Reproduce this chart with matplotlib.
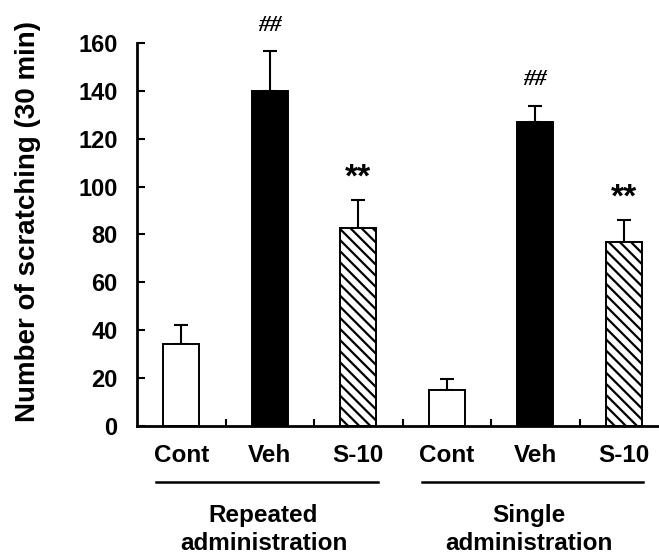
import matplotlib
matplotlib.use("Agg")
import matplotlib.pyplot as plt
from matplotlib.lines import Line2D

plt.rcParams['font.family'] = ['Liberation Sans', 'DejaVu Sans']
plt.rcParams['hatch.linewidth'] = 1.6

categories = ["Cont", "Veh", "S-10", "Cont", "Veh", "S-10"]
values = [34, 140, 82.5, 15, 127, 77]
errors = [8, 16.5, 12, 4.6, 6.7, 9]
marks = ["", "##", "**", "", "##", "**"]
groups = ["Repeated\nadministration", "Single\nadministration"]
yticks = [0, 20, 40, 60, 80, 100, 120, 140, 160]
ylabel = "Number of scratching (30 min)"

facecolors = ["white", "black", "white", "white", "black", "white"]
hatches = [None, None, "\\\\\\", None, None, "\\\\\\"]

fig = plt.figure(figsize=(6.59, 5.54), dpi=100)
ax = fig.add_axes([137/659, 1 - 425.7/554, 531/659, (425.7 - 43)/554])

x = list(range(len(values)))
for i in x:
    ax.bar(i, values[i], width=0.41, color=facecolors[i], edgecolor="black",
           linewidth=1.4, hatch=hatches[i], zorder=2)
    ax.errorbar(i, values[i], yerr=[[0], [errors[i]]], fmt="none", ecolor="black",
                elinewidth=1.5, capsize=5, capthick=1.5, zorder=1)
    if marks[i]:
        top = values[i] + errors[i]
        if marks[i] == "##":
            ax.text(i, top + 11, marks[i], ha="center", va="center",
                    fontsize=17, family=["Liberation Serif"], style="italic",
                    fontweight="bold")
        else:
            ax.text(i, top + 9, marks[i], ha="center", va="center",
                    fontsize=24, fontweight="bold")

ax.set_xlim(-0.5, 5.5)
ax.set_ylim(0, 160)
ax.set_yticks(yticks)
ax.set_yticklabels([str(t) for t in yticks], fontsize=17, fontweight="bold")
ax.set_xticks([0.5, 1.5, 2.5, 3.5, 4.5])
ax.set_xticklabels([])
ax.tick_params(axis="y", direction="in", length=6, width=1.5, pad=14)
ax.tick_params(axis="x", direction="in", length=5, width=1.5)
for s in ["top", "right"]:
    ax.spines[s].set_visible(False)
for s in ["left", "bottom"]:
    ax.spines[s].set_linewidth(2)

for i, c in enumerate(categories):
    ax.text(i, -12.5, c, ha="center", va="center", fontsize=17.5, fontweight="bold")

for g, name in enumerate(groups):
    x0 = g * 3 - 0.28
    x1 = g * 3 + 2.22
    ax.add_line(Line2D([x0, x1], [-23.5, -23.5], color="black", linewidth=1.8,
                       clip_on=False))
    ax.text(g * 3 + 0.93, -43.5, name, ha="center", va="center", fontsize=17.5,
            fontweight="bold", linespacing=1.3)

fig.text(28/659, 1 - 222/554, ylabel, rotation=90, ha="center", va="center",
         fontsize=20, fontweight="bold")

fig.savefig("out.png", dpi=100)
